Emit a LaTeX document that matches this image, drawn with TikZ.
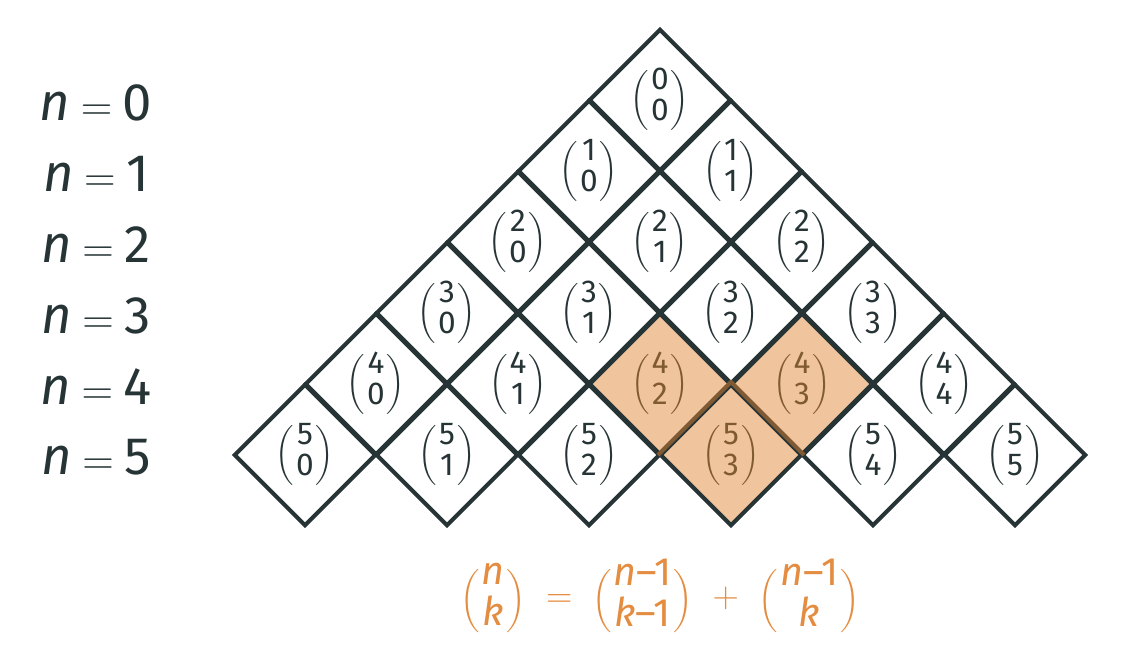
\documentclass[tikz,border=0pt]{standalone}
\usepackage{amsmath,amssymb}
\usepackage{fontspec}
\setmainfont{Fira Sans}
\usepackage{tikz}
\usetikzlibrary{shapes.geometric}
\usepackage{xcolor}
\definecolor{ink}{RGB}{38,52,54}
\definecolor{peach}{RGB}{240,196,156}
\definecolor{bark}{RGB}{128,90,50}
\definecolor{tang}{RGB}{228,140,64}
\tikzset{
  cell/.style={diamond,draw=ink,line width=2.3pt,fill=white,text=ink,
    minimum width=2.84cm,minimum height=2.84cm,inner sep=0pt,aspect=1,
    font=\fontsize{18}{18}\selectfont\def\pfont{\fontsize{14.2}{17}\selectfont}},
  hot/.style={cell,fill=peach,text=bark},
  seam/.style={draw=bark,line width=2.3pt,line join=round},
  rowlab/.style={text=ink,font=\fontsize{30}{34}\selectfont},
  eqn/.style={text=tang,font=\fontsize{22.5}{20.5}\selectfont\def\pfont{\fontsize{15}{18}\selectfont}},
}
% binomial coefficient with the text font
\newcommand{\pfont}{}
\newcommand{\bc}[2]{{\pfont$\left(\vrule height 15pt depth 15pt width 0pt\right.$}%
  \begin{tabular}{@{}c@{}}#1\\#2\end{tabular}%
  {\pfont$\left.\vrule height 15pt depth 15pt width 0pt\right)$}}

\begin{document}
\begin{tikzpicture}
  \useasboundingbox (-13.2,2) rectangle (9.28,-11.2);
  % the triangle, row by row
  \foreach \n in {0,...,5}{
    \foreach \k in {0,...,\n}{
      \def\sty{cell}
      \ifnum\n\k=42 \def\sty{hot}\fi
      \ifnum\n\k=43 \def\sty{hot}\fi
      \ifnum\n\k=53 \def\sty{hot}\fi
      \node[\sty] (c\n\k) at ({(2*\k-\n)*1.42},{-\n*1.42}) {\bc{\n}{\k}};
    }
    \node[rowlab] (lab\n) at (-11.28,{-\n*1.42-0.05})
      {\textit{n}\hspace{0.2em}$=$\hspace{0.2em}\n};
  }
  \draw[seam] (c53.west) -- (c53.north) -- (c53.east);
  \node[eqn] (rule) at (0,-9.96)
    {\bc{\textit{n}}{\textit{k}}\hspace{0.5em}$=$\hspace{0.5em}%
     \bc{\textit{n}–1}{\textit{k}–1}\hspace{0.5em}$+$\hspace{0.5em}%
     \bc{\textit{n}–1}{\textit{k}}};
\end{tikzpicture}
\end{document}
